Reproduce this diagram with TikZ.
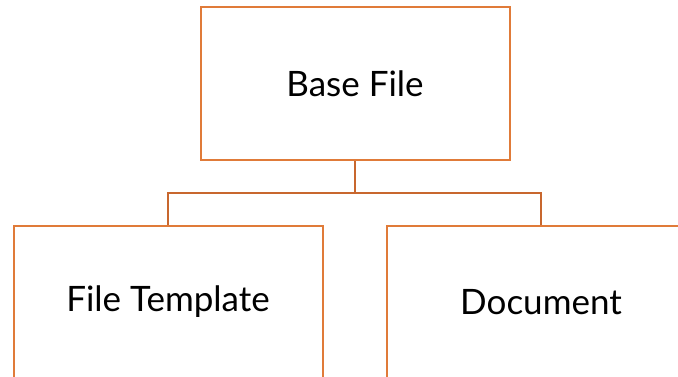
\documentclass[tikz,border=0pt]{standalone}
\usepackage{fontspec}
\setmainfont{Lato}
\usepackage{tikz}
\definecolor{boxorange}{HTML}{E07B39}
\definecolor{linkorange}{HTML}{C8672E}

\begin{document}
\begin{tikzpicture}[x = 1pt, y = -1pt, line width = 2pt,
						box/.style = {rectangle, draw = boxorange, fill = white,
						minimum width = 309pt, minimum height = 153pt,
						inner sep = 0pt, font = \fontsize{35}{40}\selectfont},
						link/.style = {draw = linkorange}]
				\useasboundingbox (0,0) rectangle (678,376);
				\clip (0,0) rectangle (678,376);

				\node [box] (base) at (355,83.5) {Base File};
				\node [box] (tmpl) at (168,302) {File Template};
				\node [box] (doc) at (541,302) {Document};

				\coordinate (split) at (355,193);
				\draw [link] (base.south) -- (split) -| (tmpl.north);
				\draw [link] (split) -| (doc.north);
			\end{tikzpicture}
\end{document}
